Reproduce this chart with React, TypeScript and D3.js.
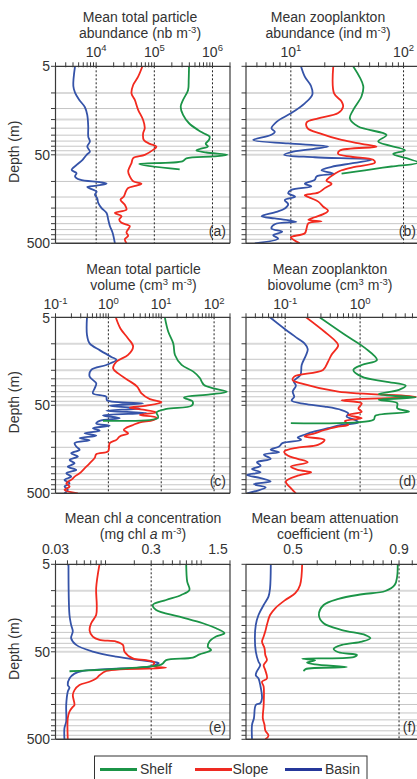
import React from "react";
import * as d3 from "d3";

type P = [number, number]; // [depth (m), value]

// ---------- shared axis data ----------
const depthGrid = [5, 10, 15, 20, 25, 30, 35, 40, 45, 50, 100, 150, 200, 250, 300, 350, 400, 450, 500];
const depthBold = [10, 20, 50];
const depthLabels = [5, 50, 500];
const seriesNames = ["Shelf", "Slope", "Basin"];
const seriesColors = ["#1b9447", "#f22a1f", "#3553a8"];
const legendColors = ["#1b9447", "#ee2a22", "#25379a"];
const PURE_WATER_C = 0.364;

// ---------- (a) total particle abundance ----------
const shelfA: P[] = [[5,395000],[7.1,390000],[9.3,380000],[12,312000],[14.3,284000],[17.7,312000],[22,395000],[26.2,564000],[28.6,705000],[31.2,893000],[34,870000],[37.6,763000],[40.4,836000],[43,603000],[44.7,528000],[47.1,784000],[50,1800000],[52.2,1020000],[55,356000],[59.3,303000],[63.5,54800],[72.9,273000]];
const slopeA: P[] = [[5,62500],[6.55,52700],[8.13,43300],[10.1,40500],[12,46200],[15.5,52700],[20.2,64200],[25,68500],[28.6,64200],[34,65900],[37.6,83600],[40.4,108700],[44,95300],[50,68500],[54.5,43300],[62,40500],[67.9,37900],[77.1,35500],[87.8,37900],[99.7,43300],[106,60100],[111.6,49300],[118.9,35500],[129.8,32400],[148,29900],[161,26200],[183.6,31100],[208.6,33200],[227,21000],[247,27300],[269,24900],[293,27300],[319,37900],[347,35500],[378,33200],[412,35500],[448,31100],[500,33200]];
const basinA: P[] = [[5,4330],[8.35,4050],[9.9,4330],[12,5130],[14.5,6410],[17.7,7030],[24,7310],[31.2,7310],[35.4,7810],[40.4,7030],[46,7810],[50,6850],[56.9,5840],[65,4620],[74,3790],[80.6,4600],[87.8,4330],[95.6,5260],[102,11600],[106,15100],[111.6,10200],[115.7,7030],[122,8340],[130,10200],[141.6,9520],[154.5,10400],[176,10900],[200,12400],[227,15100],[269,16100],[319,17200],[378,19100],[500,21000]];

// ---------- (b) zooplankton abundance ----------
const shelfB: P[] = [[5,35.7],[8.35,43.9],[10.9,42.4],[15.6,35.7],[19.4,33.4],[24,39.6],[29.9,70.6],[35.4,59.6],[44.3,103],[48.9,80.9],[54.6,106],[61.4,135],[67.8,78.2],[74.8,45.4],[81.8,28.2]];
const slopeB: P[] = [[5,23.8],[10.1,24.2],[12.5,28.2],[14.3,29.1],[16.9,26.3],[19.4,17.5],[21.6,13.8],[25.1,14.1],[28.6,18.1],[34,28.2],[37.6,42.4],[40.4,57.5],[44.7,27.2],[48.9,26.3],[52.6,34.5],[57,53.8],[61.4,55.7],[68.4,37],[74.8,28.2],[81.8,24.6],[89.5,22.2],[97.8,20.7],[106,23],[119,20],[134,17.5],[143,13.3],[155,15.2],[169,17.5],[193,19.4],[214,21.4],[234,19.4],[254,16.3],[272,14.3],[282,18.7],[297,14.3],[338,13.8],[385,13.3],[427,10],[468,10.9],[500,12]];
const basinB: P[] = [[5,12.3],[6.55,13.3],[8.35,15.1],[10.5,15.5],[13.1,13.3],[16.9,10.1],[21.2,7.47],[25.1,6.73],[27.4,7.21],[29.9,6.64],[34,4.63],[37.2,9.47],[40.4,21.4],[46,10.5],[50,8.73],[53.3,16.3],[57,52],[62.5,34.5],[68.4,23],[74.8,18.7],[81.8,23.8],[87.8,16.9],[96,16.3],[106,13.3],[114,15.2],[124.6,10.1],[136,9.47],[148.8,10.9],[162.6,8.84],[180.5,9.47],[202,8.84],[220.5,7.47],[247,5.5],[262,7.21],[286,11.2],[304,7.21],[340,6.73],[371,8.38],[405,6.97],[443,7.72],[500,4.79]];

// ---------- (c) total particle volume ----------
const shelfC: P[] = [[5,11.7],[7.3,13.6],[9.9,16.9],[13.4,18.2],[17.4,24.3],[20.7,40.5],[24.6,54.2],[26.9,58.3],[29.4,64.6],[32.1,97],[35,174],[37.6,84],[40.8,26.9],[45.4,39.4],[50.5,37.7],[55,12.6],[60.1,8.15],[69.1,8.77],[74.9,0.79]];
const slopeC: P[] = [[5,1.38],[6.7,1.69],[8.7,2.36],[10.7,2.94],[13.4,2.36],[16,1.42],[19,1.23],[21.7,1.53],[25.9,2.36],[30.6,3.5],[36.6,4.23],[42.6,6.1],[46.2,10.1],[50.5,5.27],[53.2,2.54],[56,4.55],[60.1,8.15],[64.4,3.94],[69.1,8.15],[74,7.05],[78,3.94],[83.7,2.94],[89.7,2.2],[95.4,1.95],[104,2.36],[113,1.64],[123.5,1.42],[134.5,1.06],[151,1.03],[167,0.99],[180,0.59],[199,0.55],[228,0.442],[260,0.355],[296,0.286],[323,0.23],[352,0.198],[384,0.16],[419,0.185],[457,0.148],[500,0.265]];
const basinC: P[] = [[5,0.394],[7.9,0.394],[9.9,0.442],[11.8,0.684],[14.1,1.14],[15.2,1.42],[17.4,0.916],[19.8,0.475],[23.6,0.442],[28.2,0.59],[32.1,0.55],[36.6,0.51],[40,0.916],[43.8,0.94],[47.5,4.55],[50.5,1.06],[54.2,3.94],[57.6,0.916],[61.2,5.27],[65.2,0.79],[70.1,1.64],[75.1,0.684],[80.4,0.59],[85.2,1.06],[91.1,0.51],[97.3,0.684],[104,0.355],[110.5,0.59],[118,0.286],[124.6,0.442],[134.5,0.23],[147,0.247],[160,0.286],[175,0.198],[191,0.265],[209,0.185],[228,0.23],[249,0.171],[271,0.247],[296,0.16],[323,0.198],[352,0.148],[384,0.185],[419,0.148],[457,0.171],[500,0.148]];

// ---------- (d) zooplankton biovolume ----------
const shelfD: P[] = [[5,0.288],[7.9,0.627],[11.2,1.17],[15.3,1.68],[17.4,1.05],[19.8,0.813],[23.6,1.05],[26.9,2.18],[29.9,4.06],[33.4,3.3],[37.3,1.77],[40.8,5.53],[43.3,1.77],[47.2,3.13],[53.8,3.13],[59.2,4.5],[65.7,1.6],[73.2,1.51],[79.7,0.119]];
const slopeD: P[] = [[5,0.19],[7.3,0.336],[9.6,0.484],[10.5,0.51],[13.4,0.414],[16,0.373],[19.8,0.32],[23.6,0.132],[25.9,0.126],[28.2,0.163],[34.9,0.51],[40,5.53],[43.8,0.565],[47.5,1.05],[54.2,0.95],[59.2,1.05],[64.4,0.695],[70.3,1.05],[75.5,0.627],[82.9,0.695],[87.5,0.51],[95.4,0.336],[104,0.247],[113,0.181],[123.5,0.336],[141,0.273],[151,0.147],[168,0.097],[186,0.108],[203,0.147],[222,0.2],[248,0.119],[271,0.147],[288,0.222],[315,0.147],[367,0.102],[437,0.119],[500,0.139]];
const basinD: P[] = [[5,0.0626],[6.7,0.0969],[8.7,0.147],[9.9,0.181],[11.5,0.2],[13.4,0.19],[17.4,0.166],[22.6,0.16],[26.5,0.13],[29.9,0.139],[34.9,0.126],[40,0.132],[44.1,0.122],[48.3,0.181],[51.7,0.336],[56.6,0.565],[61.9,0.695],[67.1,0.66],[73.2,0.855],[78.6,0.948],[83.7,0.565],[91.1,0.373],[99.1,0.247],[108,0.181],[116,0.147],[123.5,0.163],[134.5,0.092],[147,0.083],[160,0.064],[171,0.083],[182,0.052],[203,0.064],[222,0.042],[243,0.047],[265,0.036],[288,0.047],[309,0.031],[336,0.047],[367,0.064],[393,0.038],[428,0.055],[468,0.042],[500,0.031]];

// ---------- (e) chl a ----------
const shelfE: P[] = [[5,0.697],[7.9,0.714],[9.8,0.755],[11.2,0.618],[12.8,0.43],[14.6,0.312],[16.6,0.338],[19.8,0.593],[23.6,1.04],[26.9,1.43],[30.6,1.75],[33.5,1.43],[38.2,1.22],[43.7,1.17],[47.7,1.27],[53.5,0.96],[58.3,0.818],[62.2,0.43],[67.9,0.397],[70.8,0.367],[83.4,0.042]];
const slopeE: P[] = [[5,0.0865],[9.4,0.0798],[14.6,0.081],[19,0.0798],[23.6,0.0708],[28.2,0.068],[33.5,0.0736],[36.5,0.0865],[38.2,0.129],[41.7,0.152],[49.8,0.158],[59.5,0.193],[62.2,0.266],[66.1,0.325],[72.3,0.312],[76.2,0.43],[82.7,0.102],[92.8,0.0865],[101,0.0798],[110,0.068],[120,0.0534],[137,0.0474],[156,0.0455],[203,0.0474],[213,0.0455],[241,0.042],[287,0.0403],[500,0.0403]];
const basinE: P[] = [[5,0.041],[19,0.042],[24.6,0.0437],[29.2,0.0455],[35,0.0437],[41.7,0.0494],[49.8,0.0736],[56.9,0.129],[62.2,0.226],[65,0.312],[67.3,0.36],[74.1,0.288],[77.7,0.129],[82.7,0.058],[88.8,0.0474],[101,0.042],[120,0.0403],[128,0.042],[143,0.0403],[203,0.0388],[313,0.0388],[373,0.0372],[500,0.0372]];

// ---------- (f) beam attenuation ----------
const shelfF: P[] = [[5,0.891],[6.9,0.887],[8.6,0.871],[10.1,0.813],[11,0.696],[12.4,0.609],[14.6,0.566],[19,0.554],[23.6,0.566],[28.2,0.62],[32.2,0.711],[35,0.734],[38.2,0.696],[41.7,0.62],[46.3,0.594],[50.6,0.609],[54.4,0.675],[57.4,0.662],[59.9,0.517],[62.6,0.545],[66.1,0.527],[69.6,0.545],[74.8,0.637],[78.8,0.524],[83.4,0.52]];
const slopeF: P[] = [[5,0.517],[8.6,0.513],[10.7,0.504],[12.8,0.487],[15.9,0.472],[19,0.465],[24.6,0.461],[29.2,0.459],[33.5,0.457],[38.2,0.455],[45.5,0.458],[54.4,0.459],[62.2,0.461],[70.8,0.457],[81.2,0.459],[101,0.461],[110,0.455],[125,0.457],[203,0.457],[287,0.456],[341,0.458],[397,0.459],[455,0.463],[500,0.459]];
const basinF: P[] = [[5,0.466],[9.4,0.465],[11.7,0.463],[14.6,0.457],[19,0.451],[24.6,0.448],[35,0.447],[49.8,0.448],[65,0.451],[70.8,0.453],[84.4,0.449],[92.8,0.448],[101,0.451],[120,0.453],[170,0.455],[193,0.453],[203,0.448],[287,0.446],[341,0.444],[500,0.444]];

// ---------- tick labels ----------
type Lab = { v: number; t: string; s?: string };
const labelsA: Lab[] = [{ v: 1e4, t: "10", s: "4" }, { v: 1e5, t: "10", s: "5" }, { v: 1e6, t: "10", s: "6" }];
const labelsB: Lab[] = [{ v: 10, t: "10", s: "1" }, { v: 100, t: "10", s: "2" }];
const labelsC: Lab[] = [{ v: 0.1, t: "10", s: "-1" }, { v: 1, t: "10", s: "0" }, { v: 10, t: "10", s: "1" }, { v: 100, t: "10", s: "2" }];
const labelsD: Lab[] = [{ v: 0.1, t: "10", s: "-1" }, { v: 1, t: "10", s: "0" }];
const labelsE: Lab[] = [{ v: 0.03, t: "0.03" }, { v: 0.3, t: "0.3" }, { v: 1.5, t: "1.5" }];
const labelsF: Lab[] = [{ v: 0.5, t: "0.5" }, { v: 0.9, t: "0.9" }];
const ticksF = [0.5, 0.55, 0.6, 0.65, 0.7, 0.75, 0.8, 0.85, 0.9, 1.0];

type Seg = [string, string?];
const titleA: Seg[][] = [[["Mean total particle"]], [["abundance (nb m"], ["-3", "sup"], [")"]]];
const titleB: Seg[][] = [[["Mean zooplankton"]], [["abundance (ind m"], ["-3", "sup"], [")"]]];
const titleC: Seg[][] = [[["Mean total particle"]], [["volume (cm"], ["3", "sup"], [" m"], ["-3", "sup"], [")"]]];
const titleD: Seg[][] = [[["Mean zooplankton"]], [["biovolume (cm"], ["3", "sup"], [" m"], ["-3", "sup"], [")"]]];
const titleE: Seg[][] = [[["Mean chl "], ["a", "it"], [" concentration"]], [["(mg chl "], ["a", "it"], [" m"], ["-3", "sup"], [")"]]];
const titleF: Seg[][] = [[["Mean beam attenuation"]], [["coefficient (m"], ["-1", "sup"], [")"]]];

// ---------- layout ----------
const COLS: [number, number][] = [[55.5, 230], [246, 420]];
const ROWS: [number, number][] = [[66.3, 243.3], [317.3, 493.3], [564.3, 739.3]];
const ROW_TEXT = [
  { t1: 21.7, t2: 38.3, tick: 56.5 },
  { t1: 273.5, t2: 290, tick: 309 },
  { t1: 522.5, t2: 539, tick: 554.3 },
];

interface PanelCfg {
  key: string; col: number; row: number; domain: [number, number]; offset: number;
  ticks?: number[]; labels: Lab[]; dotted: number[]; title: Seg[][]; titleX: number; series: P[][];
}

const panels: PanelCfg[] = [
  { key: "a", col: 0, row: 0, domain: [2000, 2e6], offset: 0, labels: labelsA, dotted: [1e4, 1e5, 1e6], title: titleA, titleX: 140, series: [shelfA, slopeA, basinA] },
  { key: "b", col: 1, row: 0, domain: [4, 140], offset: 0, labels: labelsB, dotted: [10, 100], title: titleB, titleX: 328, series: [shelfB, slopeB, basinB] },
  { key: "c", col: 0, row: 1, domain: [0.1, 200], offset: 0, labels: labelsC, dotted: [1, 10, 100], title: titleC, titleX: 143.5, series: [shelfC, slopeC, basinC] },
  { key: "d", col: 1, row: 1, domain: [0.03, 6.3], offset: 0, labels: labelsD, dotted: [0.1, 1], title: titleD, titleX: 330, series: [shelfD, slopeD, basinD] },
  { key: "e", col: 0, row: 2, domain: [0.03, 2], offset: 0, labels: labelsE, dotted: [0.3], title: titleE, titleX: 143, series: [shelfE, slopeE, basinE] },
  { key: "f", col: 1, row: 2, domain: [0.438, 1.067], offset: PURE_WATER_C, ticks: ticksF, labels: labelsF, dotted: [0.9], title: titleF, titleX: 325, series: [shelfF, slopeF, basinF] },
];

const FONT = "'Liberation Sans', Arial, Helvetica, sans-serif";
const TXT = "#333";
const AX = "#3a3a3a";

function Segs({ segs }: { segs: Seg[] }) {
  let up = false;
  return (
    <>
      {segs.map((s, i) => {
        const isSup = s[1] === "sup";
        let dy = 0;
        if (isSup && !up) { dy = -5.5; up = true; }
        else if (!isSup && up) { dy = 5.5; up = false; }
        return (
          <tspan key={i} dy={dy || undefined} fontSize={isSup ? 9.5 : undefined} fontStyle={s[1] === "it" ? "italic" : undefined}>
            {s[0]}
          </tspan>
        );
      })}
    </>
  );
}

function Panel({ p }: { p: PanelCfg }) {
  const [x0, x1] = COLS[p.col];
  const [y0, y1] = ROWS[p.row];
  const xs = d3.scaleLog().domain([p.domain[0] - p.offset, p.domain[1] - p.offset]).range([x0, x1]);
  const X = (v: number) => xs(v - p.offset);
  const ys = d3.scaleLog().domain([5, 500]).range([y0, y1]);
  const ticks = p.ticks ?? xs.ticks().filter((t) => t >= p.domain[0] - 1e-12 && t <= p.domain[1]);
  const line = d3.line<P>().x((d) => X(d[1])).y((d) => ys(d[0])).curve(d3.curveCatmullRom.alpha(0.5));
  const rt = ROW_TEXT[p.row];
  const clipId = `clip-${p.key}`;
  const order = [2, 1, 0];
  return (
    <g>
      <defs>
        <clipPath id={clipId}><rect x={x0} y={y0} width={x1 - x0} height={y1 - y0} /></clipPath>
      </defs>
      {depthGrid.filter((d) => d !== 5 && d !== 500).map((d) => (
        <line key={d} x1={x0} x2={x1} y1={ys(d)} y2={ys(d)}
          stroke={depthBold.includes(d) ? "#d9d9d9" : "#c6c6c6"} strokeWidth={depthBold.includes(d) ? 2 : 1} />
      ))}
      {p.dotted.map((v) => (
        <line key={v} x1={X(v)} x2={X(v)} y1={y0} y2={y1} stroke="#222" strokeWidth={1} strokeDasharray="2,2" />
      ))}
      <g clipPath={`url(#${clipId})`}>
        {order.map((i) => (
          <path key={i} d={line(p.series[i]) || ""} fill="none" stroke={seriesColors[i]} strokeWidth={1.8} strokeLinejoin="round" />
        ))}
      </g>
      {/* frame */}
      <line x1={x0} x2={x1} y1={y0} y2={y0} stroke={AX} strokeWidth={1.2} />
      <line x1={x0} x2={x1} y1={y1} y2={y1} stroke={AX} strokeWidth={1.6} />
      <line x1={x0} x2={x0} y1={y0} y2={y1} stroke={AX} strokeWidth={1.2} />
      <line x1={x1} x2={x1} y1={y0} y2={y1} stroke={AX} strokeWidth={1.2} />
      {/* top ticks */}
      {ticks.map((t) => (
        <line key={t} x1={X(t)} x2={X(t)} y1={y0 - 4} y2={y0 + 1} stroke={AX} strokeWidth={1} />
      ))}
      {/* left ticks */}
      {depthGrid.map((d) => (
        <line key={d} x1={x0 - 4.5} x2={x0} y1={ys(d)} y2={ys(d)} stroke={AX} strokeWidth={1} />
      ))}
      {/* tick labels */}
      {p.labels.map((l) => (
        <text key={l.v} x={X(l.v)} y={rt.tick} textAnchor="middle" fontSize={14} fill={TXT} style={{ whiteSpace: "pre" }}>
          <tspan>{l.t}</tspan>
          {l.s !== undefined && <tspan dy={-5.5} fontSize={9.5}>{l.s}</tspan>}
        </text>
      ))}
      {/* titles */}
      <text x={p.titleX} y={rt.t1} textAnchor="middle" fontSize={14} fill={TXT} style={{ whiteSpace: "pre" }}>
        <Segs segs={p.title[0]} />
      </text>
      <text x={p.titleX} y={rt.t2} textAnchor="middle" fontSize={14} fill={TXT} style={{ whiteSpace: "pre" }}>
        <Segs segs={p.title[1]} />
      </text>
      {/* depth labels */}
      {p.col === 0 && depthLabels.map((d) => (
        <text key={d} x={50} y={ys(d)} dy={d === 5 && p.row === 1 ? "0.42em" : "0.36em"} textAnchor="end" fontSize={14} fill={TXT}>{d}</text>
      ))}
      {p.col === 0 && (
        <text transform={`translate(19,${(y0 + y1) / 2 - 3}) rotate(-90)`} textAnchor="middle" fontSize={14} fill={TXT}>Depth (m)</text>
      )}
      <text x={x1 - 4} y={y1 - 7} textAnchor="end" fontSize={14} fill={TXT}>({p.key})</text>
    </g>
  );
}

function Legend() {
  const items = [
    { x: 100, tx: 140 },
    { x: 195, tx: 232.5 },
    { x: 285, tx: 325 },
  ];
  return (
    <g>
      <rect x={94.5} y={756} width={272.5} height={32} fill="#fff" stroke="#333" strokeWidth={1} />
      {items.map((it, i) => (
        <g key={i}>
          <line x1={it.x} x2={it.x + 37} y1={769.5} y2={769.5} stroke={legendColors[i]} strokeWidth={3} />
          <text x={it.tx} y={774} fontSize={14} fill={TXT}>{seriesNames[i]}</text>
        </g>
      ))}
    </g>
  );
}

export default function App() {
  return (
    <svg width={417} height={779} style={{ position: "absolute", left: 0, top: 0, background: "#fff" }} fontFamily={FONT}>
      <rect width={417} height={779} fill="#fff" />
      {panels.map((p) => <Panel key={p.key} p={p} />)}
      <Legend />
    </svg>
  );
}
